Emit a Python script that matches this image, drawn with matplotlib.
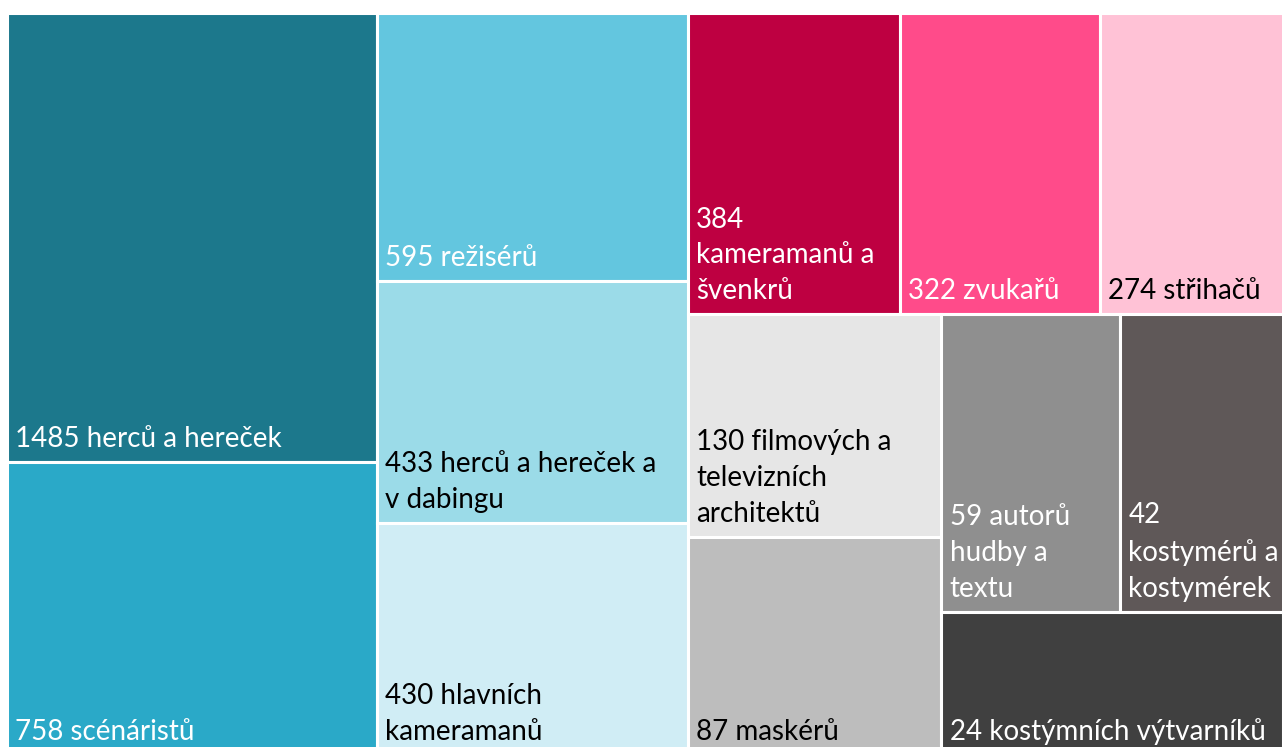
import matplotlib
matplotlib.use('Agg')
import matplotlib.pyplot as plt
from matplotlib.patches import Rectangle

# counts shown in labels and the box sizes (areas, thousands of px)
counts = [1485, 758, 595, 433, 430, 384, 322, 274, 130, 87, 59, 42, 24]
names = ['herců a hereček', 'scénáristů', 'režisérů', 'herců a hereček a\nv dabingu',
         'hlavních\nkameramanů', '\nkameramanů a\nšvenkrů', 'zvukařů', 'střihačů',
         'filmových a\ntelevizních\narchitektů', 'maskérů', 'autorů\nhudby a\ntextu',
         '\nkostymérů a\nkostymérek', 'kostýmních výtvarníků']
sizes = [166.5, 108.3, 83.5, 75.4, 72.3, 63.9, 60.4, 55.5, 56.4, 55.3, 53.1, 48.7, 49.1]
groups = [2, 3, 3, 2, 2, 1]  # how many boxes go in each strip
colors = ['#1c788c', '#2aa9c8', '#63c6df', '#9bdbe8', '#d0edf5', '#be0041', '#ff4b8a',
          '#ffc2d6', '#e6e6e6', '#bdbdbd', '#8f8f8f', '#5f5858', '#404040']
text_colors = ['white', 'white', 'white', 'black', 'black', 'white', 'white',
               'black', 'black', 'black', 'white', 'white', 'white']

W, H = 1277.0, 742.5


def strip_layout(sizes, groups, x, y, w, h):
    scale = w * h / sum(sizes)
    areas = [s * scale for s in sizes]
    rects = []
    i = 0
    for n in groups:
        part = areas[i:i + n]
        tot = sum(part)
        if w >= h:
            cw = tot / h
            yy = y
            for a in part:
                rects.append((x, yy, cw, a / cw))
                yy += a / cw
            x += cw
            w -= cw
        else:
            rh = tot / w
            xx = x
            for a in part:
                rects.append((xx, y, a / rh, rh))
                xx += a / rh
            y += rh
            h -= rh
        i += n
    return rects


rects = strip_layout(sizes, groups, 0, 0, W, H)

fig = plt.figure(figsize=(12.82, 7.47), dpi=100)
left = 6.5 / 1282
top = 12.5 / 747
ax = fig.add_axes([left, 1 - top - H / 747, W / 1282, H / 747])
ax.set_xlim(0, W)
ax.set_ylim(H, 0)
ax.axis('off')

for (x0, y0, w, h), c, tc, n, lab in zip(rects, colors, text_colors, counts, names):
    ax.add_patch(Rectangle((x0, y0), w, h, facecolor=c, edgecolor='white', linewidth=2.2))
    if lab.startswith('\n'):
        txt = str(n) + lab
    else:
        txt = str(n) + ' ' + lab
    ax.annotate(txt, xy=(x0, y0 + h), xytext=(6.1, 7.2), textcoords='offset points',
                ha='left', va='bottom', color=tc, fontsize=20, family='Lato',
                linespacing=1.47)

fig.savefig('out.png', dpi=100)
